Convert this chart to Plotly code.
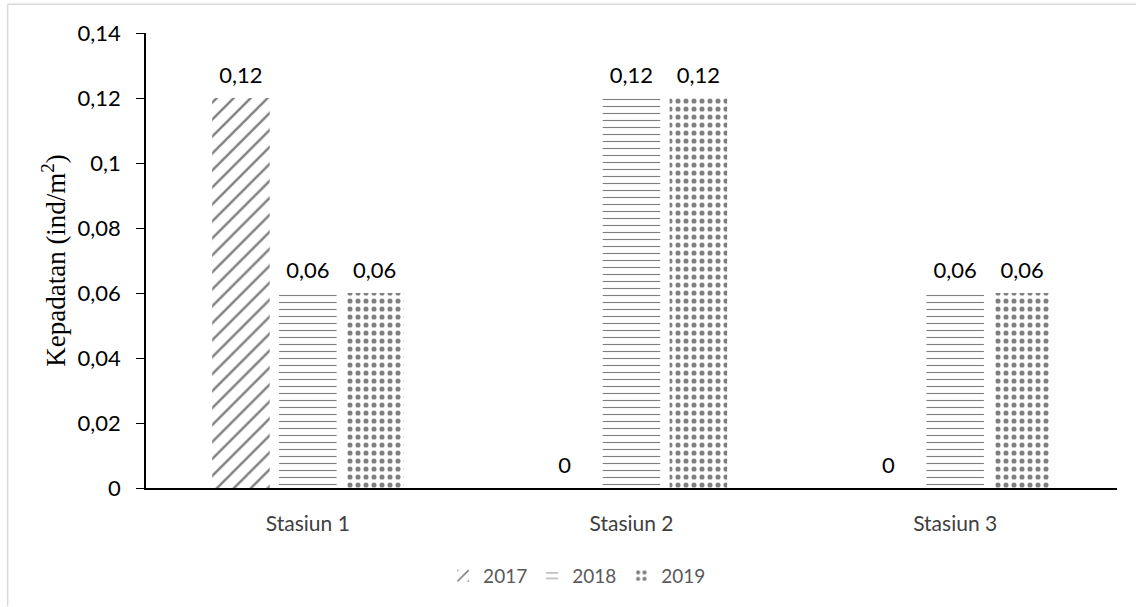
import plotly.graph_objects as go

categories = ["Stasiun 1", "Stasiun 2", "Stasiun 3"]
years = ["2017", "2018", "2019"]
values_2017 = [0.12, 0, 0]
values_2018 = [0.06, 0.12, 0.06]
values_2019 = [0.06, 0.12, 0.06]
tick_vals = [0, 0.02, 0.04, 0.06, 0.08, 0.1, 0.12, 0.14]
tick_text = ["0", "0,02", "0,04", "0,06", "0,08", "0,1", "0,12", "0,14"]

series = [values_2017, values_2018, values_2019]
patterns = [
    dict(shape="/", size=12, solidity=0.2, fgcolor="black", bgcolor="white"),
    dict(shape="-", size=7, solidity=0.16, fgcolor="black", bgcolor="white"),
    dict(shape=".", size=8, solidity=0.32, fgcolor="black", bgcolor="white"),
]

FONT = "Lato, Open Sans, sans-serif"

fig = go.Figure()
for name, vals, pat in zip(years, series, patterns):
    fig.add_trace(go.Bar(
        x=categories, y=vals, name=name, offsetgroup=name,
        marker=dict(color="white", pattern=pat, line=dict(width=0)),
    ))
for name, vals in zip(years, series):
    fig.add_trace(go.Scatter(
        x=categories, y=vals, name=name, offsetgroup=name, showlegend=False,
        mode="markers+text", marker=dict(size=14, opacity=0),
        text=[("%g" % v).replace(".", ",") for v in vals],
        textposition="top center", cliponaxis=False, hoverinfo="skip",
        textfont=dict(family=FONT, size=22, color="#000000"),
    ))

fig.update_layout(
    width=1136, height=607,
    margin=dict(l=146, r=19, t=33, b=119),
    paper_bgcolor="white", plot_bgcolor="white",
    barmode="group", bargap=0.38, bargroupgap=0.14,
    scattermode="group", scattergap=0.38,
    separators=",.",
    showlegend=True,
    legend=dict(orientation="h", x=0.444, xanchor="center", y=-0.193, yanchor="middle",
                font=dict(family=FONT, size=19, color="#595959"),
                itemwidth=30, traceorder="normal"),
    xaxis=dict(showline=True, linecolor="black", linewidth=2, ticks="",
               ticklabelstandoff=16,
               tickfont=dict(family=FONT, size=21, color="#404040"),
               showgrid=False),
    yaxis=dict(range=[0, 0.14], tickvals=tick_vals, ticktext=tick_text,
               showline=True, linecolor="black", linewidth=1.5,
               ticks="outside", ticklen=8, tickcolor="black",
               ticklabelstandoff=11,
               showgrid=False, zeroline=False,
               tickfont=dict(family=FONT, size=22, color="#000000"),
               title=dict(text="Kepadatan (ind/m<sup>2</sup>)",
                          font=dict(family="Liberation Serif, serif", size=27, color="#000000"),
                          standoff=4)),
    shapes=[
        dict(type="line", xref="paper", yref="paper", x0=-0.1425, x1=1.1, y0=1.063, y1=1.063,
             line=dict(color="#d9d9d9", width=1.5)),
        dict(type="line", xref="paper", yref="paper", x0=-0.1425, x1=-0.1425, y0=-0.26, y1=1.063,
             line=dict(color="#d9d9d9", width=1.5)),
    ],
)

fig.write_html("out.html")
